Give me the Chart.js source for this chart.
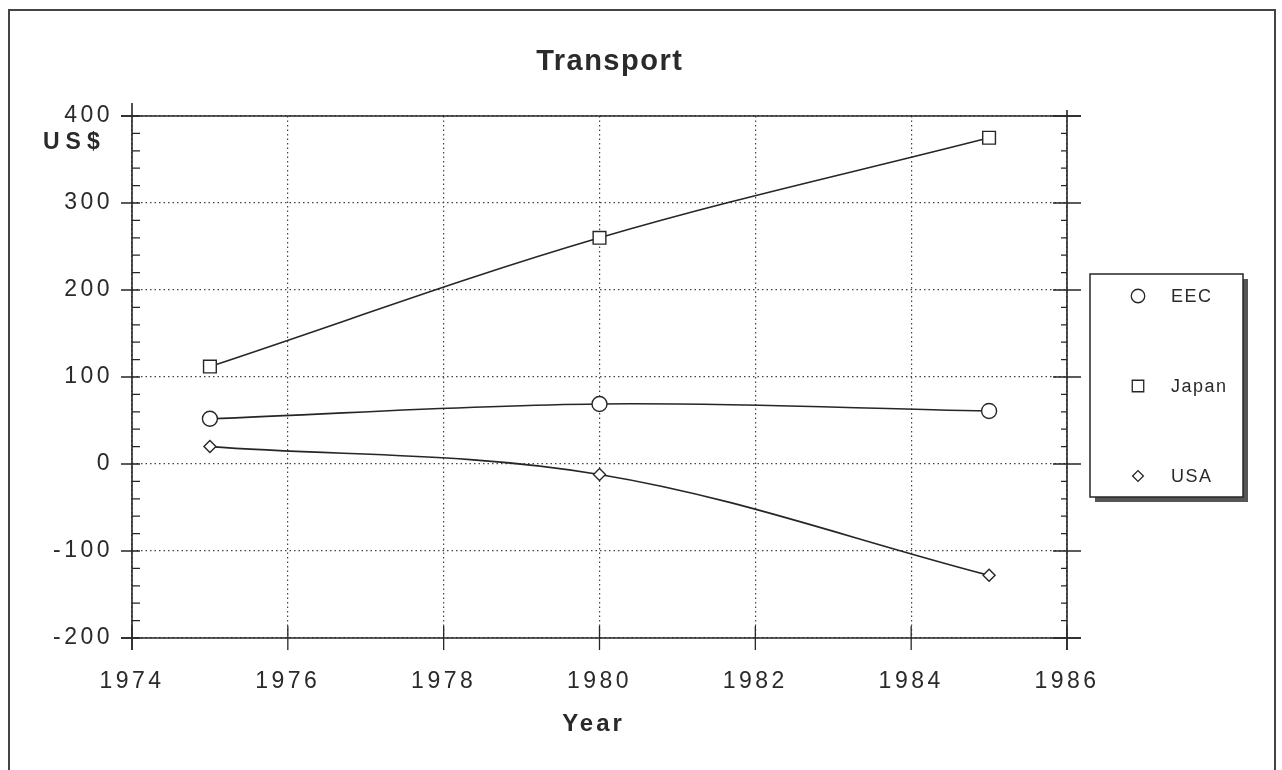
<!DOCTYPE html>
<html>
<head>
<meta charset="utf-8">
<style>
  html, body { margin: 0; padding: 0; background: #fff; }
  #wrap { width: 1282px; height: 770px; }
</style>
<script src="https://cdn.jsdelivr.net/npm/chart.js@4/dist/chart.umd.min.js"></script>
</head>
<body>
<div id="wrap"><canvas id="chart" width="1282" height="770"></canvas></div>
<script>
(function () {
    'use strict';

    // --- Data ---
    const years = [1975, 1980, 1985];
    const eec = [52, 69, 61];
    const japan = [112, 260, 375];
    const usa = [20, -12, -128];
    const seriesNames = ['EEC', 'Japan', 'USA'];

    const ink = '#262626';
    const font = 'Liberation Sans, Arial, sans-serif';

    function points(values) {
        return years.map((yr, i) => ({ x: yr, y: values[i] }));
    }

    function series(label, values, style, radius) {
        return {
            label: label,
            data: points(values),
            borderColor: ink,
            borderWidth: 1.6,
            backgroundColor: '#fff',
            pointStyle: style,
            pointRadius: radius,
            pointHoverRadius: radius,
            pointBorderWidth: 1.4,
            pointBorderColor: ink,
            pointBackgroundColor: '#fff',
            tension: 0.35,
            fill: false,
        };
    }

    function spacedText(ctx, text, x, y, spacing, align) {
        ctx.letterSpacing = spacing + 'px';
        const w = ctx.measureText(text).width - spacing;
        let sx = x;
        if (align === 'center') sx = x - w / 2;
        else if (align === 'right') sx = x - w;
        ctx.textAlign = 'left';
        ctx.fillText(text, sx, y);
        ctx.letterSpacing = '0px';
    }

    // --- Frame, ticks, titles, legend ---
    const decorations = {
        id: 'decorations',
        beforeDraw(chart) {
            chart.ctx.letterSpacing = '3.5px';
        },
        afterDraw(chart) {
            const ctx = chart.ctx;
            const xs = chart.scales.x;
            const ys = chart.scales.y;
            const a = chart.chartArea;
            ctx.save();
            ctx.letterSpacing = '0px';
            ctx.lineCap = 'butt';

            // outer border
            ctx.lineWidth = 2;
            ctx.strokeStyle = '#444';
            ctx.strokeRect(9, 10, 1266, 762);

            // plot frame
            ctx.strokeStyle = ink;
            ctx.lineWidth = 1.6;
            ctx.beginPath();
            ctx.moveTo(a.left, a.top - 13); ctx.lineTo(a.left, a.bottom + 12);
            ctx.moveTo(a.right, a.top - 6); ctx.lineTo(a.right, a.bottom + 12);
            ctx.moveTo(a.left - 11, a.top); ctx.lineTo(a.right + 14, a.top);
            ctx.moveTo(a.left - 11, a.bottom); ctx.lineTo(a.right + 14, a.bottom);
            ctx.stroke();

            // y ticks
            ctx.lineWidth = 1.3;
            ctx.beginPath();
            for (let v = ys.min; v <= ys.max; v += 20) {
                const py = ys.getPixelForValue(v);
                if (v % 100 === 0) {
                    ctx.moveTo(a.left - 11, py); ctx.lineTo(a.left + 8, py);
                    ctx.moveTo(a.right - 14, py); ctx.lineTo(a.right + 14, py);
                } else {
                    ctx.moveTo(a.left, py); ctx.lineTo(a.left + 8, py);
                    ctx.moveTo(a.right - 6, py); ctx.lineTo(a.right, py);
                }
            }
            // x ticks
            for (let v = xs.min; v <= xs.max; v += 2) {
                const px = xs.getPixelForValue(v);
                ctx.moveTo(px, a.bottom - 12); ctx.lineTo(px, a.bottom + 12);
            }
            ctx.stroke();

            // titles
            ctx.fillStyle = '#2a2a2a';
            ctx.textBaseline = 'middle';
            ctx.font = 'bold 29px ' + font;
            spacedText(ctx, 'Transport', 609, 62, 1.5, 'center');
            ctx.font = 'bold 24px ' + font;
            spacedText(ctx, 'Year', 592, 724, 3, 'center');
            ctx.font = 'bold 23px ' + font;
            spacedText(ctx, 'US$', 43, 143, 6, 'left');

            // legend box with shadow
            const lx = 1090, ly = 274, lw = 153, lh = 223;
            ctx.fillStyle = '#555';
            ctx.fillRect(lx + 5, ly + 5, lw, lh);
            ctx.fillStyle = '#fff';
            ctx.fillRect(lx, ly, lw, lh);
            ctx.lineWidth = 1.5;
            ctx.strokeStyle = ink;
            ctx.strokeRect(lx, ly, lw, lh);

            const rows = [296, 386, 476];
            chart.data.datasets.forEach((ds, i) => {
                ctx.fillStyle = '#fff';
                ctx.strokeStyle = ink;
                ctx.lineWidth = 1.3;
                Chart.helpers.drawPoint(ctx, {
                    pointStyle: ds.pointStyle,
                    radius: ds.pointRadius * 0.9,
                    borderWidth: 1.3,
                    rotation: 0,
                }, 1138, rows[i]);
                ctx.fillStyle = '#2a2a2a';
                ctx.font = '18px ' + font;
                ctx.textBaseline = 'middle';
                spacedText(ctx, seriesNames[i], 1171, rows[i] + 1, 1.5, 'left');
            });
            ctx.restore();
        },
    };

    const dotted = {
        display: true,
        color: '#444',
        lineWidth: 1.2,
        drawTicks: false,
    };

    new Chart(document.getElementById('chart'), {
        type: 'line',
        data: {
            datasets: [
                series('EEC', eec, 'circle', 7.5),
                series('Japan', japan, 'rect', 9),
                series('USA', usa, 'rectRot', 6),
            ],
        },
        options: {
            responsive: false,
            animation: false,
            devicePixelRatio: 1,
            layout: { padding: { top: 116, right: 215, left: 0, bottom: 0 } },
            plugins: {
                legend: { display: false },
                title: { display: false },
                tooltip: { enabled: false },
            },
            scales: {
                x: {
                    type: 'linear',
                    min: 1974,
                    max: 1986,
                    grid: dotted,
                    border: { display: false, dash: [1.5, 3] },
                    ticks: {
                        stepSize: 2,
                        padding: 30,
                        color: '#2a2a2a',
                        font: { family: font, size: 23 },
                        callback: (v) => String(v),
                        maxRotation: 0,
                    },
                    afterFit(scale) { scale.height = 132; },
                },
                y: {
                    min: -200,
                    max: 400,
                    grid: dotted,
                    border: { display: false, dash: [1.5, 3] },
                    ticks: {
                        stepSize: 100,
                        padding: 19,
                        color: '#2a2a2a',
                        font: { family: font, size: 23 },
                    },
                    afterFit(scale) { scale.width = 132; },
                },
            },
        },
        plugins: [decorations],
    });
})();
</script>
</body>
</html>
